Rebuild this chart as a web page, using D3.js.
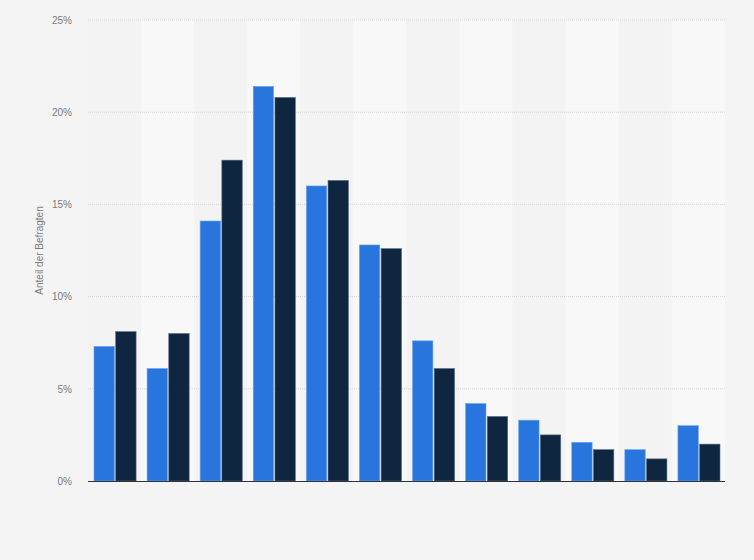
<!DOCTYPE html>
<html>
<head>
<meta charset="utf-8">
<script src="https://cdn.jsdelivr.net/npm/d3@7"></script>
<style>
  body { margin: 0; background: #f4f4f4; }
  svg { display: block; font-family: "Liberation Sans", Arial, sans-serif; }
</style>
</head>
<body>
<div id="chart"></div>
<script>
// categories have no printed labels in the source, only positions
var categories = ["1", "2", "3", "4", "5", "6", "7", "8", "9", "10", "11", "12"];
var seriesNames = ["Serie A", "Serie B"];
var seriesA = [7.3, 6.1, 14.1, 21.4, 16.0, 12.8, 7.6, 4.2, 3.3, 2.1, 1.7, 3.0];
var seriesB = [8.1, 8.0, 17.4, 20.8, 16.3, 12.6, 6.1, 3.5, 2.5, 1.7, 1.2, 2.0];
var yTicks = [0, 5, 10, 15, 20, 25];
var colors = ["#2876dd", "#0f2640"];

(function () {
	var width = 754,
		height = 560;
	var margin = { top: 20, right: 29, bottom: 79, left: 88 };
	var innerW = width - margin.left - margin.right,
		innerH = height - margin.top - margin.bottom;

	var svg = d3.select('#chart').append('svg')
		.attr('width', width)
		.attr('height', height);

	var g = svg.append('g')
		.attr('transform', 'translate(' + margin.left + ',' + margin.top + ')');

	var x0 = d3.scaleBand()
		.domain(categories)
		.range([0, innerW]);

	var x1 = d3.scaleBand()
		.domain(seriesNames)
		.range([6, x0.bandwidth() - 5])
		.paddingInner(0.06);

	var y = d3.scaleLinear()
		.domain([0, 25])
		.range([innerH, 0]);

	// alternating column bands
	g.selectAll('rect.band').data(categories)
		.enter().append('rect')
		.attr('class', 'band')
		.attr('x', function (d) { return x0(d); })
		.attr('y', 0)
		.attr('width', x0.bandwidth())
		.attr('height', innerH)
		.style('fill', function (d, i) { return i % 2 ? '#f8f8f8' : '#f3f3f3'; });

	// grid
	g.selectAll('line.grid').data(yTicks.filter(function (t) { return t > 0; }))
		.enter().append('line')
		.attr('class', 'grid')
		.attr('x1', 0)
		.attr('x2', innerW)
		.attr('y1', function (d) { return y(d); })
		.attr('y2', function (d) { return y(d); })
		.style('stroke', '#d6d6d6')
		.style('stroke-dasharray', '1,1');

	var yAxis = d3.axisLeft(y)
		.tickValues(yTicks)
		.tickSize(0)
		.tickPadding(16)
		.tickFormat(function (d) { return d + '%'; });

	g.append('g')
		.call(yAxis)
		.call(function (s) { s.select('.domain').remove(); })
		.selectAll('text')
		.style('font-size', '10px')
		.style('fill', '#7a7a7a');

	var rows = categories.map(function (c, i) {
		return { cat: c, values: [seriesA[i], seriesB[i]] };
	});

	var groups = g.selectAll('g.cat').data(rows)
		.enter().append('g')
		.attr('class', 'cat')
		.attr('transform', function (d) { return 'translate(' + x0(d.cat) + ',0)'; });

	groups.selectAll('rect').data(function (d) {
		return d.values.map(function (v, j) { return { key: seriesNames[j], value: v, j: j }; });
	})
		.enter().append('rect')
		.attr('x', function (d) { return x1(d.key); })
		.attr('width', x1.bandwidth())
		.attr('y', function (d) { return y(d.value); })
		.attr('height', function (d) { return innerH - y(d.value); })
		.style('fill', function (d) { return colors[d.j]; })
		.style('stroke', function (d) { return d.j ? '#5a6b80' : '#6ea3ee'; })
		.style('stroke-width', 0.6);

	// baseline
	g.append('line')
		.attr('x1', 0)
		.attr('x2', innerW)
		.attr('y1', innerH + 0.5)
		.attr('y2', innerH + 0.5)
		.style('stroke', '#333')
		.style('stroke-width', 1.2);

	svg.append('text')
		.attr('transform', 'translate(43,' + (margin.top + innerH / 2) + ') rotate(-90)')
		.attr('text-anchor', 'middle')
		.style('font-size', '10px')
		.style('fill', '#7a7a7a')
		.text('Anteil der Befragten');
})();
</script>
</body>
</html>
